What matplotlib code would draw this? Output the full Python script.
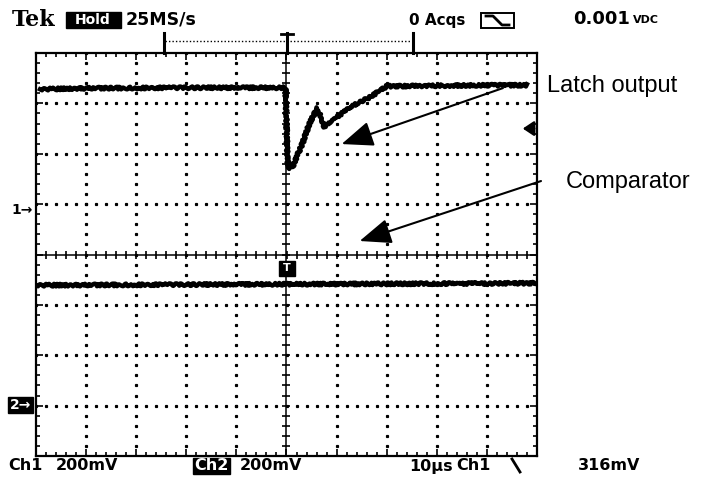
import numpy as np
import matplotlib
matplotlib.use("Agg")
import matplotlib.pyplot as plt
from matplotlib.patches import Rectangle

W, H = 711, 478

# screen is 10 x 8 divisions, trigger at x = 0, centre line at y = 0
latch_x = [-4.92, -4.0, -2.0, -0.02, 0.0, 0.02, 0.06, 0.12, 0.32, 0.46, 0.62, 0.76, 1.0, 1.4, 1.66, 2.0, 3.0, 4.0, 4.8]
latch_y = [3.28, 3.30, 3.31, 3.31, 2.60, 1.85, 1.70, 1.74, 2.21, 2.61, 2.91, 2.53, 2.73, 3.00, 3.12, 3.34, 3.35, 3.36, 3.36]

comp_x = [-5.0, -2.5, 0.0, 2.5, 4.96]
comp_y = [-0.61, -0.60, -0.59, -0.58, -0.57]

ch1_marker = 1.0
ch2_marker = -3.0
trig_level = 2.5

header = ["Tek", "Hold", "25MS/s", "0 Acqs", "0.001", "VDC"]
footer = ["Ch1", "200mV", "Ch2", "200mV", "10\u00b5s", "Ch1", "316mV"]
labels = ["Latch output", "Comparator"]


def fp(x, y):
    # pixel position (origin top-left) -> figure fraction
    return x / W, 1 - y / H


fig = plt.figure(figsize=(W / 100, H / 100), dpi=100)
ax = fig.add_axes([36 / W, 1 - 456 / H, 501 / W, 403 / H])
ax.set_xlim(-5, 5)
ax.set_ylim(-4, 4)
for s in ax.spines.values():
    s.set_linewidth(1.6)
ax.set_xticks(np.arange(-5, 5.01, 1))
ax.set_yticks(np.arange(-4, 4.01, 1))
ax.set_xticks(np.arange(-5, 5.01, 0.2), minor=True)
ax.set_yticks(np.arange(-4, 4.01, 0.2), minor=True)
ax.tick_params(which="both", direction="in", top=True, right=True,
               labelbottom=False, labelleft=False, width=1.2)
ax.tick_params(which="major", length=5)
ax.tick_params(which="minor", length=3)

# dotted graticule
fine = np.arange(-5, 5.01, 0.2)
yy = np.arange(-4, 4.01, 0.2)
for gx in range(-4, 5):
    if gx != 0:
        ax.plot(np.full_like(yy, gx), yy, ls="none", marker="s", ms=1.3, color="k")
for gy in range(-3, 4):
    if gy != 0:
        ax.plot(fine, np.full_like(fine, gy), ls="none", marker="s", ms=1.3, color="k")

# centre cross with tick marks
ax.axhline(0, color="k", lw=1.1)
ax.axvline(0, color="k", lw=1.1)
ax.plot(fine, np.zeros_like(fine), ls="none", marker="|", ms=6, mew=1.2, color="k")
ax.plot(np.zeros_like(yy), yy, ls="none", marker="_", ms=6, mew=1.2, color="k")

# traces
l1, = ax.plot(latch_x, latch_y, color="k", lw=3.2, solid_joinstyle="round")
l2, = ax.plot(comp_x, comp_y, color="k", lw=3.2)
for ln in (l1, l2):
    ln.set_sketch_params(scale=1.3, length=5, randomness=3)

# trigger position box on channel 2
ax.add_patch(Rectangle((-0.14, -0.42), 0.3, 0.3, color="k", zorder=5))
ax.text(0.01, -0.27, "T", color="white", fontsize=8, fontweight="bold",
        ha="center", va="center", zorder=6)

# trigger level marker on the right edge
ax.annotate("", xy=(4.66, trig_level), xytext=(5.0, trig_level),
            arrowprops=dict(arrowstyle="-|>,head_length=0.6,head_width=0.4",
                            color="k", lw=1.8, mutation_scale=11),
            annotation_clip=False)

# channel ground markers
fig.text(*fp(33, 210), "1\u2192", fontsize=10, fontweight="bold", va="center", ha="right")
fig.patches.append(Rectangle(fp(8, 413), 25 / W, 16 / H, color="k",
                             transform=fig.transFigure, figure=fig))
fig.text(*fp(10, 405), "2\u2192", fontsize=10, fontweight="bold", color="white",
         va="center", ha="left")

# horizontal position bracket above the screen
fig.lines.append(plt.Line2D([165 / W, 413 / W], [1 - 41 / H] * 2, color="k", lw=1,
                            ls=(0, (1, 1.5)), transform=fig.transFigure))
for bx in (164, 287, 413):
    fig.lines.append(plt.Line2D([bx / W] * 2, [1 - 33 / H, 1 - 53 / H], color="k",
                                lw=2.2, transform=fig.transFigure))
fig.lines.append(plt.Line2D([281 / W, 293 / W], [1 - 34 / H] * 2, color="k",
                            lw=2, transform=fig.transFigure))

# header
fig.text(*fp(12, 20), header[0], family="DejaVu Serif", fontsize=16,
         fontweight="bold", va="center")
fig.patches.append(Rectangle(fp(66, 28), 55 / W, 16 / H, color="k",
                             transform=fig.transFigure, figure=fig))
fig.text(*fp(93, 20), header[1], fontsize=10, fontweight="bold", color="white",
         ha="center", va="center")
fig.text(*fp(126, 20), header[2], fontsize=12.5, fontweight="bold", va="center")
fig.text(*fp(409, 20), header[3], fontsize=11, fontweight="bold", va="center")
fig.patches.append(Rectangle(fp(481, 28), 33 / W, 15 / H, fill=False, lw=1.4,
                             ec="k", transform=fig.transFigure, figure=fig))
fig.lines.append(plt.Line2D([486 / W, 493 / W, 502 / W, 509 / W],
                            [1 - 16 / H, 1 - 16 / H, 1 - 25 / H, 1 - 25 / H],
                            color="k", lw=2, transform=fig.transFigure))
fig.text(*fp(573, 19), header[4], fontsize=13, fontweight="bold", va="center")
fig.text(*fp(633, 20), header[5], fontsize=8, fontweight="bold", va="center")

# footer
fig.text(*fp(8, 466), footer[0], fontsize=11.5, fontweight="bold", va="center")
fig.text(*fp(56, 466), footer[1], fontsize=11.5, fontweight="bold", va="center")
fig.patches.append(Rectangle(fp(193, 474), 37 / W, 16 / H, color="k",
                             transform=fig.transFigure, figure=fig))
fig.text(*fp(211.5, 466), footer[2], fontsize=11.5, fontweight="bold", color="white",
         ha="center", va="center")
fig.text(*fp(240, 466), footer[3], fontsize=11.5, fontweight="bold", va="center")
fig.text(*fp(409, 466), footer[4], fontsize=11.5, fontweight="bold", va="center")
fig.text(*fp(456, 466), footer[5], fontsize=11.5, fontweight="bold", va="center")
fig.lines.append(plt.Line2D([512 / W, 520 / W], [1 - 459 / H, 1 - 472 / H], color="k",
                            lw=2, transform=fig.transFigure))
fig.text(*fp(578, 466), footer[6], fontsize=11.5, fontweight="bold", va="center")

# callouts
fig.text(*fp(547, 86), labels[0], family="Liberation Sans", fontsize=17, va="center")
fig.text(*fp(566, 182), labels[1], family="Liberation Sans", fontsize=17, va="center")
arrow = dict(arrowstyle="-|>,head_length=1.5,head_width=0.6", mutation_scale=13,
             color="k", lw=1.5, shrinkA=0, shrinkB=0)
ax.annotate("", xy=((342 - 287) / 50, (254.5 - 144) / 50.4),
            xytext=((503 - 287) / 50, (254.5 - 88) / 50.4),
            arrowprops=arrow, annotation_clip=False)
ax.annotate("", xy=((360 - 287) / 50, (254.5 - 241) / 50.4),
            xytext=((541 - 287) / 50, (254.5 - 181) / 50.4),
            arrowprops=arrow, annotation_clip=False)

fig.savefig("out.png", dpi=100)
